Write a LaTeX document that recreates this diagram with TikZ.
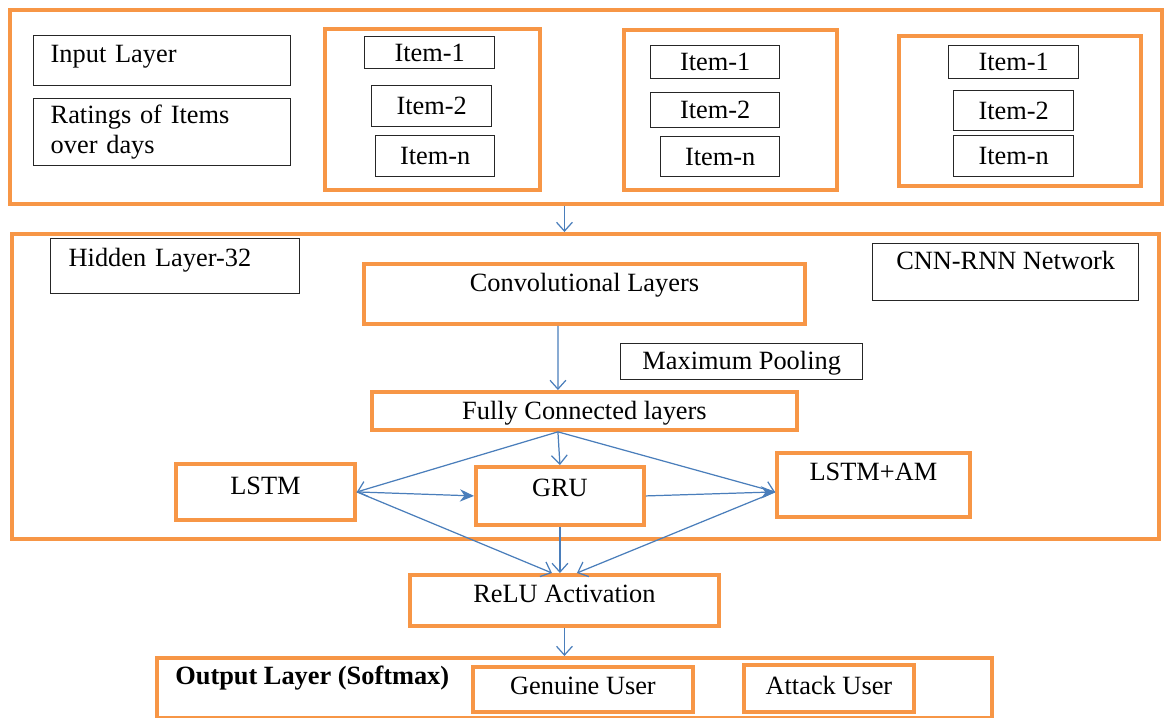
\documentclass[tikz,border=0pt]{standalone}
\usepackage{fontspec}
\setmainfont{Liberation Serif}
\usepackage{xcolor}
\usetikzlibrary{shapes,arrows.meta,positioning,calc}

\definecolor{boxorange}{HTML}{F79646}
\definecolor{arrowblue}{HTML}{4A7EBB}

\tikzset{
  obox/.style={rectangle, draw=boxorange, line width=2.2pt, inner sep=0pt},
  kbox/.style={rectangle, draw=black!85, line width=0.8pt, inner sep=0pt},
  tline/.style 2 args={text height=#1, text depth=#2},
  flow/.style={draw=arrowblue, line width=0.7pt, -{Straight Barb[length=5pt,width=9pt]}},
  push/.style={draw=arrowblue, line width=0.7pt, -{Stealth[length=8pt,width=7pt]}}
}

\begin{document}
\begin{tikzpicture}[every node/.style={font=\fontsize{15}{17}\selectfont, anchor=north west}]
  \useasboundingbox (0,0) rectangle (23.28,-14.36);

  % input layer
  \node[obox, minimum width=23.04cm, minimum height=3.88cm] (inbox) at (0.16,-0.16) {};
  \node[kbox, text width=4.46cm, inner xsep=0.34cm, align=left, tline={0.54cm}{0.46cm}] (inlayer) at (0.66,-0.70) {Input Layer};
  \node[kbox, text width=4.46cm, inner xsep=0.34cm, align=left, minimum height=1.34cm] (ratings) at (0.66,-1.96) {Ratings of Items\\over days};

  \node[obox, minimum width=4.30cm, minimum height=3.22cm] (grpA) at (6.46,-0.54) {};
  \node[kbox, minimum width=2.60cm, minimum height=0.64cm] (a1) at (7.28,-0.72) {Item-1};
  \node[kbox, minimum width=2.40cm, minimum height=0.82cm] (a2) at (7.42,-1.70) {Item-2};
  \node[kbox, minimum width=2.38cm, minimum height=0.82cm] (an) at (7.50,-2.70) {Item-n};

  \node[obox, minimum width=4.26cm, minimum height=3.20cm] (grpB) at (12.44,-0.56) {};
  \node[kbox, minimum width=2.58cm, minimum height=0.66cm] (b1) at (13.00,-0.90) {Item-1};
  \node[kbox, minimum width=2.58cm, minimum height=0.70cm] (b2) at (13.00,-1.84) {Item-2};
  \node[kbox, minimum width=2.38cm, minimum height=0.80cm] (bn) at (13.20,-2.72) {Item-n};

  \node[obox, minimum width=4.84cm, minimum height=3.00cm] (grpC) at (17.94,-0.68) {};
  \node[kbox, minimum width=2.60cm, minimum height=0.66cm] (c1) at (18.96,-0.90) {Item-1};
  \node[kbox, minimum width=2.40cm, minimum height=0.80cm] (c2) at (19.06,-1.80) {Item-2};
  \node[kbox, minimum width=2.40cm, minimum height=0.82cm] (cn) at (19.06,-2.70) {Item-n};

  % hidden layer
  \node[obox, minimum width=22.94cm, minimum height=6.10cm] (hidbox) at (0.20,-4.64) {};
  \node[kbox, text width=4.26cm, inner xsep=0.36cm, align=left, tline={0.56cm}{0.54cm}] (hid32) at (1.00,-4.76) {Hidden Layer-32};
  \node[obox, minimum width=8.82cm, tline={0.56cm}{0.64cm}] (conv) at (7.24,-5.24) {Convolutional Layers};
  \node[kbox, minimum width=5.32cm, tline={0.52cm}{0.62cm}] (cnnrnn) at (17.44,-4.86) {CNN-RNN Network};
  \node[kbox, minimum width=4.84cm, tline={0.52cm}{0.20cm}] (maxpool) at (12.40,-6.86) {Maximum Pooling};
  \node[obox, minimum width=8.50cm, tline={0.56cm}{0.20cm}] (fc) at (7.40,-7.80) {Fully Connected layers};
  \node[obox, minimum width=3.58cm, tline={0.62cm}{0.50cm}] (lstm) at (3.48,-9.24) {LSTM};
  \node[obox, minimum width=3.36cm, tline={0.60cm}{0.56cm}] (gru) at (9.48,-9.30) {GRU};
  \node[obox, minimum width=3.86cm, tline={0.56cm}{0.72cm}] (lstmam) at (15.50,-9.02) {LSTM+AM};

  % activation and output
  \node[obox, minimum width=6.18cm, tline={0.56cm}{0.46cm}] (relu) at (8.16,-11.46) {ReLU Activation};
  \node[obox, minimum width=16.70cm, minimum height=1.20cm] (outbox) at (3.10,-13.12) {};
  \node[anchor=base west, inner sep=0pt, font=\fontsize{15}{17}\selectfont\bfseries] (outtitle) at (3.50,-13.70) {Output Layer (Softmax)};
  \node[obox, minimum width=4.40cm, tline={0.56cm}{0.34cm}] (genuine) at (9.42,-13.30) {Genuine User};
  \node[obox, minimum width=3.40cm, tline={0.60cm}{0.34cm}] (attack) at (14.84,-13.26) {Attack User};

  % connectors
  \coordinate (fcout) at ([xshift=-0.53cm]fc.south);
  \coordinate (amin) at ([yshift=-0.14cm]lstmam.west);
  \draw[flow] (inbox.south -| relu.north) -- (hidbox.north -| relu.north);
  \draw[flow] ([xshift=-0.53cm]conv.south) -- ([xshift=-0.53cm]fc.north);
  \draw[flow] (fcout) -- (lstm.east);
  \draw[flow] (fcout) -- (gru.north);
  \draw[flow] (fcout) -- (amin);
  \draw[push] (lstm.east) -- (gru.west);
  \draw[push] (gru.east) -- (amin);
  \draw[flow] (lstm.east) -- ([xshift=-0.25cm]relu.north);
  \draw[flow] (gru.south) -- (relu.north -| gru.south);
  \draw[flow] (amin) -- ([xshift=0.25cm]relu.north);
  \draw[flow] (relu.south) -- (outbox.north -| relu.south);
\end{tikzpicture}
\end{document}
